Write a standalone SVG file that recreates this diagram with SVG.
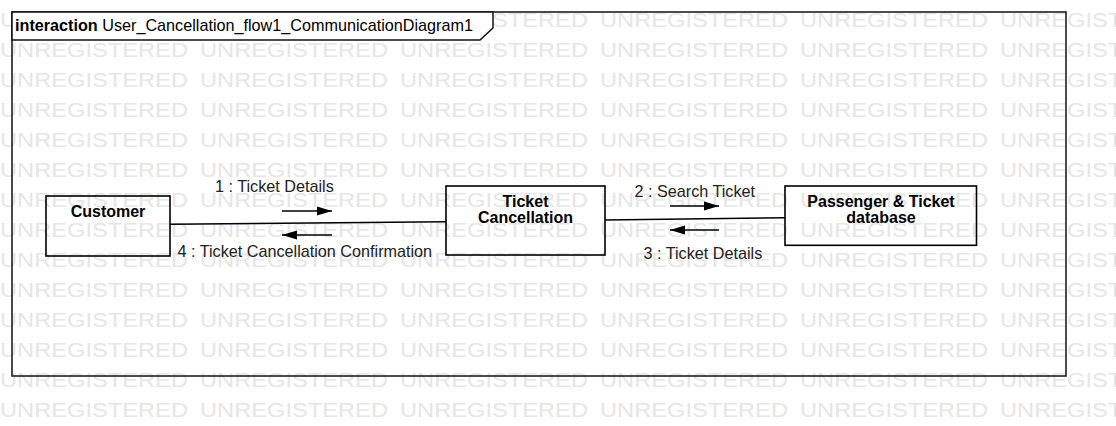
<svg xmlns="http://www.w3.org/2000/svg" xmlns:xlink="http://www.w3.org/1999/xlink" width="1116" height="426" viewBox="0 0 1116 426">
  <style>
    .wm { font-family: "Liberation Sans", Arial, sans-serif; font-size: 21px; fill: #e6e6e6; }
    .box { fill: none; stroke: #000; stroke-width: 1.6; }
    .name { font-family: "Liberation Sans", Arial, sans-serif; font-size: 16px; font-weight: bold; fill: #000; text-anchor: middle; }
    .lbl { font-family: "Liberation Sans", Arial, sans-serif; font-size: 16.2px; fill: #222; }
    .link { fill: none; stroke: #000; stroke-width: 1.6; }
    .msg { fill: none; stroke: #000; stroke-width: 1.6; marker-end: url(#head); }
    .hdr { font-family: "Liberation Sans", Arial, sans-serif; font-size: 16.2px; fill: #000; }
  </style>
  <defs>
    <marker id="head" markerUnits="userSpaceOnUse" markerWidth="16" markerHeight="10" refX="15" refY="5" orient="auto">
      <path d="M0,0.5 L15,5 L0,9.5 Z" fill="#000"/>
    </marker>
    <g id="wmrow">
      <text class="wm" x="0" textLength="188" lengthAdjust="spacingAndGlyphs">UNREGISTERED</text>
      <text class="wm" x="200" textLength="188" lengthAdjust="spacingAndGlyphs">UNREGISTERED</text>
      <text class="wm" x="400" textLength="188" lengthAdjust="spacingAndGlyphs">UNREGISTERED</text>
      <text class="wm" x="600" textLength="188" lengthAdjust="spacingAndGlyphs">UNREGISTERED</text>
      <text class="wm" x="800" textLength="188" lengthAdjust="spacingAndGlyphs">UNREGISTERED</text>
      <text class="wm" x="1000" textLength="188" lengthAdjust="spacingAndGlyphs">UNREGISTERED</text>
    </g>
  </defs>
  <rect x="0" y="0" width="1116" height="426" fill="#fff"/>
  <g id="watermark">
    <use xlink:href="#wmrow" y="27"/>
    <use xlink:href="#wmrow" y="57"/>
    <use xlink:href="#wmrow" y="87"/>
    <use xlink:href="#wmrow" y="117"/>
    <use xlink:href="#wmrow" y="147"/>
    <use xlink:href="#wmrow" y="177"/>
    <use xlink:href="#wmrow" y="207"/>
    <use xlink:href="#wmrow" y="237"/>
    <use xlink:href="#wmrow" y="267"/>
    <use xlink:href="#wmrow" y="297"/>
    <use xlink:href="#wmrow" y="327"/>
    <use xlink:href="#wmrow" y="357"/>
    <use xlink:href="#wmrow" y="387"/>
    <use xlink:href="#wmrow" y="417"/>
  </g>
  <g id="frame">
    <rect x="12" y="12" width="1054" height="364" fill="none" stroke="#111" stroke-width="1.5"/>
    <path d="M12,12 H493 V28 L480,40 H12 Z" fill="#fff" stroke="#111" stroke-width="1.5"/>
    <text class="hdr" x="15" y="31"><tspan font-weight="bold">interaction</tspan> User_Cancellation_flow1_CommunicationDiagram1</text>
  </g>
  <g id="connectors">
    <line class="link" x1="170" y1="224.3" x2="446" y2="221.7"/>
    <line class="link" x1="605" y1="220" x2="785" y2="217.7"/>
    <line class="msg" x1="282" y1="211" x2="332" y2="211"/>
    <line class="msg" x1="332" y1="235" x2="282" y2="235"/>
    <line class="msg" x1="670" y1="206" x2="719" y2="206"/>
    <line class="msg" x1="719" y1="230" x2="670" y2="230"/>
    <text class="lbl" x="215" y="192.3">1 : Ticket Details</text>
    <text class="lbl" x="177.5" y="257.3">4 : Ticket Cancellation Confirmation</text>
    <text class="lbl" x="634.5" y="197.3">2 : Search Ticket</text>
    <text class="lbl" x="643.5" y="259">3 : Ticket Details</text>
  </g>
  <g id="customer">
    <rect class="box" x="46" y="196" width="124" height="60"/>
    <text class="name" x="108" y="217">Customer</text>
  </g>
  <g id="ticket-cancellation">
    <rect class="box" x="446" y="186" width="159" height="69"/>
    <text class="name" x="525.5" y="206.7">Ticket</text>
    <text class="name" x="525.5" y="223.3">Cancellation</text>
  </g>
  <g id="passenger-ticket-database">
    <rect class="box" x="785" y="186" width="191.5" height="59.3"/>
    <text class="name" x="881" y="206.7">Passenger &amp; Ticket</text>
    <text class="name" x="881" y="222.5">database</text>
  </g>
</svg>
